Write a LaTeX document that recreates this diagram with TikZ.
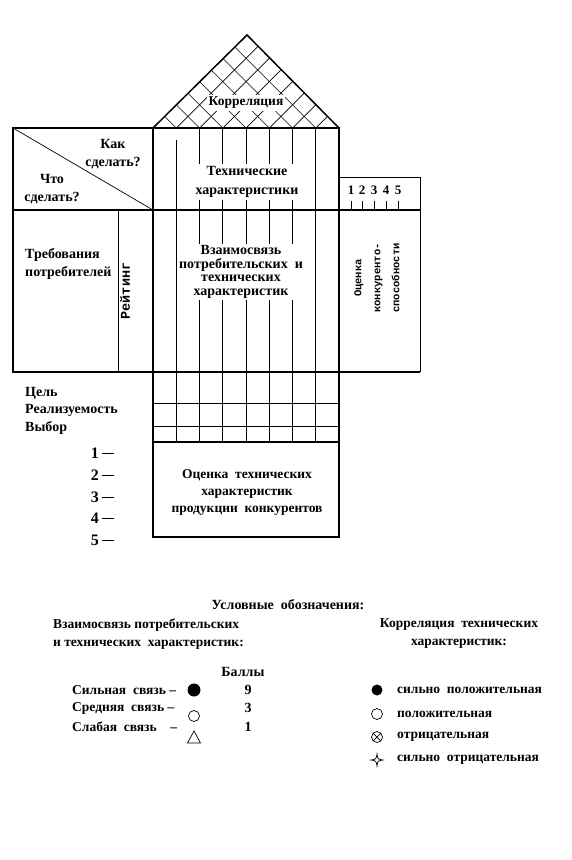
\documentclass[tikz,border=0pt]{standalone}
\usepackage{fontspec}
\setmainfont{Liberation Serif}
\setmonofont{Liberation Mono}
\usetikzlibrary{positioning}

\begin{document}
\begin{tikzpicture}[x=1pt, y=-1pt,
    frame/.style={line width=1.5pt},
    thin/.style={line width=0.7pt},
    lbl/.style={font=\fontsize{14}{18}\selectfont\bfseries, inner sep=1pt, align=center},
    cover/.style={lbl, fill=white, inner sep=2pt},
    lefttext/.style={lbl, anchor=west, align=left},
    legend/.style={font=\fontsize{13.5}{18}\selectfont\bfseries, inner sep=0pt, anchor=west}
]
    \useasboundingbox (0,0) rectangle (571,860);

    % roof with cross hatching
    \begin{scope}
        \clip (153,128) -- (247,35) -- (339,128) -- cycle;
        \foreach \i in {1,...,7} {
            \pgfmathsetmacro\xc{153+23.25*\i}
            \draw[thin] (\xc,128) -- ++(-130,-130);
            \draw[thin] (\xc,128) -- ++(130,-130);
        }
    \end{scope}
    \draw[frame] (153,128) -- (247,35) -- (339,128);
    \node[cover, font=\fontsize{13.5}{18}\selectfont\bfseries] (corr) at (246,103) {Корреляция};

    % columns of the matrix
    \foreach \i in {2,...,7} {
        \pgfmathsetmacro\xc{153+23.25*\i}
        \draw[thin] (\xc,128) -- (\xc,442);
    }
    \draw[thin] (176.25,140) -- (176.25,442);

    % frames
    \draw[frame] (153,128) rectangle (339,210);
    \draw[frame] (153,210) rectangle (339,372);
    \draw[frame] (13,128) rectangle (153,372);
    \draw[frame] (13,210) -- (420,210);
    \draw[frame] (13,372) -- (420,372);
    \draw[thin] (13,128) -- (153,210);
    \draw[thin] (118,210) -- (118,372);

    % competitive assessment
    \draw[thin] (339,177) rectangle (420,210);
    \draw[thin] (420,210) -- (420,372);
    \foreach \k/\xk in {1/351,2/362,3/374,4/386,5/398} {
        \draw[thin] (\xk,201) -- (\xk,210);
        \node[lbl, font=\fontsize{13}{16}\selectfont\bfseries] (rank\k) at (\xk,190) {\k};
    }

    % lower grid and box
    \draw[thin] (153,403) -- (339,403);
    \draw[thin] (153,426) -- (339,426);
    \draw[frame] (153,372) rectangle (339,537);
    \draw[frame] (153,442) -- (339,442);

    % texts of the house
    \node[lbl] (how) at (113,154) {Как\\сделать?};
    \node[lbl] (what) at (52,189) {Что\\сделать?};
    \node[cover, font=\fontsize{14}{19}\selectfont\bfseries] (tech) at (247,182) {Технические\\характеристики};
    \node[lefttext] (needs) at (24,264) {Требования\\потребителей};
    \node[lbl, rotate=90, font=\fontsize{13.5}{16}\selectfont\ttfamily\bfseries] (rating) at (125,291) {Рейтинг};
    \node[cover, font=\fontsize{14}{13.5}\selectfont\bfseries] (rel) at (241,272)
        {Взаимосвязь\\потребительских~~и\\технических\\характеристик};
    \node[lbl, rotate=90, font=\fontsize{10.5}{19}\selectfont\ttfamily\bfseries] (comp) at (377,278)
        {Оценка\\конкуренто-\\способности};
    \node[lefttext] (goal) at (24,393) {Цель};
    \node[lefttext] (real) at (24,410) {Реализуемость};
    \node[lefttext] (choice) at (24,428) {Выбор};
    \foreach \k/\yk in {1/453,2/475,3/497,4/518,5/540} {
        \node[lbl, anchor=east, font=\fontsize{16}{18}\selectfont\bfseries] (comp\k) at (115,\yk)
            {\k\hspace{3pt}\rule[4pt]{12pt}{0.9pt}};
    }
    \node[lbl, font=\fontsize{13.5}{17}\selectfont\bfseries] (rivals) at (247,492)
        {Оценка~~технических\\характеристик\\продукции~~конкурентов};

    % legend
    \node[lbl] (legtitle) at (288,605) {Условные~~обозначения:};
    \node[legend, align=left] (legrel) at (53,634)
        {Взаимосвязь потребительских\\и технических~~характеристик:};
    \node[legend, align=center, anchor=center] (legcorr) at (459,634)
        {Корреляция~~технических\\характеристик:};
    \node[lbl] (points) at (243,672) {Баллы};

    \node[legend] (strong) at (72,690) {Сильная~~связь --};
    \node[legend] (medium) at (72,708) {Средняя~~связь --};
    \node[legend] (weak) at (72,727) {Слабая~~связь~~~~--};
    \fill (194,690) circle (6.5);
    \draw[thin] (194,716) circle (5.5);
    \draw[thin] (194,731) -- (200.5,743) -- (187.5,743) -- cycle;
    \node[lbl] (p9) at (248,690) {9};
    \node[lbl] (p3) at (248,708) {3};
    \node[lbl] (p1) at (248,727) {1};

    \fill (377,690) circle (5.5);
    \draw[thin] (377,714) circle (5.5);
    \draw[thin] (377,737) circle (5.5);
    \draw[thin] (373.1,733.1) -- (380.9,740.9) (373.1,740.9) -- (380.9,733.1);
    \draw[thin] (377,754) .. controls (377.8,759.2) .. (383,760)
        .. controls (377.8,760.8) .. (377,766)
        .. controls (376.2,760.8) .. (371,760)
        .. controls (376.2,759.2) .. cycle;
    \node[legend] (c1) at (397,690) {сильно~~положительная};
    \node[legend] (c2) at (397,714) {положительная};
    \node[legend] (c3) at (397,737) {отрицательная};
    \node[legend] (c4) at (397,760) {сильно~~отрицательная};
\end{tikzpicture}
\end{document}
